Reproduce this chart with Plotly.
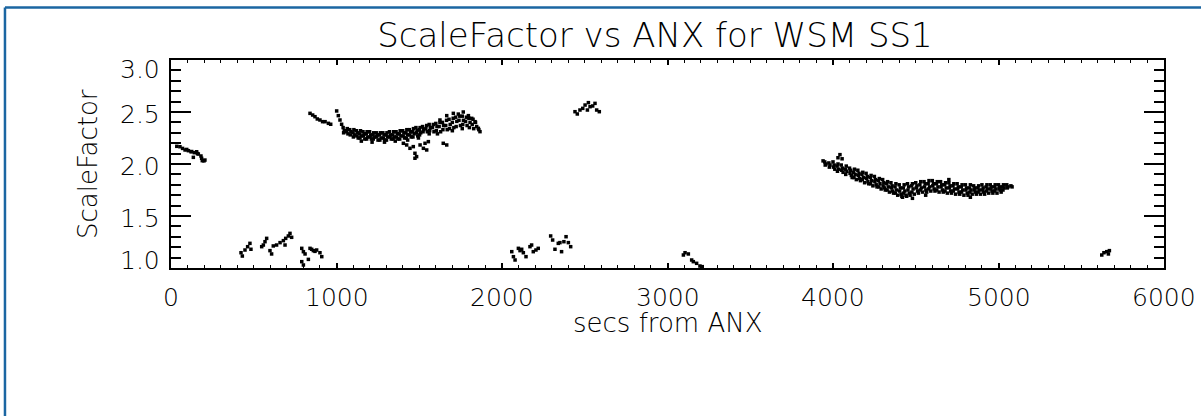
import plotly.graph_objects as go

# ---------------- data ----------------
x_ticks = [0, 1000, 2000, 3000, 4000, 5000, 6000]
y_ticks = [1.0, 1.5, 2.0, 2.5, 3.0]

# cluster near 0-200 s, ~2.1
secs_a = [35, 54, 70, 85, 95, 105, 121, 125, 135, 141, 155, 160, 165, 181, 185, 189, 199, 205]
scale_a = [2.17, 2.166, 2.15, 2.135, 2.14, 2.128, 2.118, 2.12, 2.064, 2.109, 2.118, 2.10, 2.096, 2.077, 2.055, 2.032, 2.03, 2.038]

# low strands 400-920 s, ~1.0-1.3
secs_b = [423, 431, 447, 463, 477, 483, 548, 558, 568, 578, 598, 608,
          618, 638, 659, 679, 693, 709, 719, 729, 689,
          790, 800, 810, 830, 840, 860, 880, 900, 911, 790, 800, 850, 870]
scale_b = [1.147, 1.115, 1.173, 1.205, 1.237, 1.18, 1.205, 1.221, 1.253, 1.285, 1.167, 1.135,
           1.212, 1.221, 1.244, 1.263, 1.285, 1.308, 1.333, 1.295, 1.221,
           1.189, 1.157, 1.135, 1.083, 1.189, 1.167, 1.173, 1.147, 1.109, 1.061, 1.029, 1.18, 1.16]

# upper band 840-1870 s, ~2.2-2.5
secs_c = [840, 856, 870, 884, 900, 916, 931, 951, 965, 1001, 1011, 1021, 1031,
          1040, 1047, 1043,
          1065, 1060, 1069,
          1080, 1087, 1083,
          1105, 1100, 1109, 1102,
          1120, 1127, 1123, 1131,
          1145, 1140, 1149, 1142,
          1160, 1167, 1163, 1171,
          1185, 1180, 1189, 1182,
          1200, 1207, 1203, 1211,
          1225, 1220, 1229, 1222,
          1240, 1247, 1243, 1251,
          1265, 1260, 1269, 1262,
          1280, 1287, 1283, 1291,
          1305, 1300, 1309, 1302,
          1320, 1327, 1323, 1331,
          1345, 1340, 1349, 1342,
          1360, 1367, 1363, 1371,
          1385, 1380, 1389, 1382,
          1400, 1407, 1403, 1411,
          1425, 1420, 1429, 1422,
          1440, 1447, 1443, 1451,
          1465, 1460, 1469, 1462,
          1480, 1487, 1483, 1491,
          1505, 1500, 1509, 1502,
          1520, 1527, 1523,
          1545, 1540, 1549,
          1560, 1567, 1563,
          1585, 1580, 1589,
          1600, 1607, 1603,
          1625, 1620, 1629,
          1640, 1647, 1643,
          1665, 1660, 1669,
          1680, 1687, 1683,
          1705, 1700, 1709,
          1720, 1727, 1723,
          1745, 1740, 1749,
          1760, 1767, 1763,
          1785, 1780, 1789,
          1800, 1807, 1803,
          1825, 1820, 1829,
          1840, 1847,
          1860,
          1404, 1424, 1444, 1464, 1474, 1484, 1505, 1525, 1535, 1545, 1555, 1645, 1666, 1474,
          1625, 1666, 1706, 1736, 1766, 1797, 1817, 1837, 1867, 1857,
          1150, 1215, 1290, 1355, 1430, 1495, 1560, 1610, 1700, 1760]
scale_c = [2.487, 2.471, 2.455, 2.433, 2.423, 2.407, 2.407, 2.391, 2.382, 2.510, 2.465, 2.423, 2.382,
           2.35, 2.32, 2.30,
           2.34, 2.31, 2.29,
           2.33, 2.31, 2.28,
           2.33, 2.30, 2.28, 2.26,
           2.32, 2.30, 2.27, 2.25,
           2.32, 2.29, 2.27, 2.25,
           2.31, 2.29, 2.27, 2.24,
           2.31, 2.29, 2.26, 2.24,
           2.31, 2.28, 2.26, 2.24,
           2.30, 2.28, 2.26, 2.24,
           2.30, 2.28, 2.26, 2.23,
           2.30, 2.28, 2.25, 2.23,
           2.30, 2.28, 2.25, 2.23,
           2.30, 2.28, 2.26, 2.23,
           2.31, 2.28, 2.26, 2.24,
           2.31, 2.28, 2.26, 2.24,
           2.31, 2.29, 2.26, 2.24,
           2.32, 2.29, 2.27, 2.24,
           2.32, 2.30, 2.27, 2.25,
           2.33, 2.30, 2.28, 2.25,
           2.33, 2.31, 2.28, 2.26,
           2.34, 2.31, 2.29, 2.26,
           2.35, 2.32, 2.30, 2.27,
           2.35, 2.33, 2.30, 2.28,
           2.36, 2.33, 2.31,
           2.37, 2.34, 2.31,
           2.38, 2.35, 2.32,
           2.38, 2.35, 2.31,
           2.39, 2.36, 2.32,
           2.40, 2.36, 2.31,
           2.40, 2.37, 2.33,
           2.42, 2.37, 2.33,
           2.43, 2.38, 2.34,
           2.44, 2.40, 2.35,
           2.45, 2.41, 2.36,
           2.46, 2.42, 2.37,
           2.46, 2.42, 2.38,
           2.45, 2.41, 2.37,
           2.44, 2.40, 2.35,
           2.43, 2.38, 2.34,
           2.40, 2.36,
           2.33,
           2.199, 2.183, 2.151, 2.167, 2.103, 2.071, 2.183, 2.151, 2.199, 2.135, 2.215, 2.199, 2.183, 2.055,
           2.423, 2.465, 2.487, 2.48, 2.50, 2.465, 2.439, 2.407, 2.311, 2.343,
           2.22, 2.21, 2.21, 2.22, 2.23, 2.25, 2.29, 2.29, 2.32, 2.34]

# small groups 2050-3210 s
secs_d = [2441, 2455, 2471, 2488, 2502, 2516, 2532, 2548, 2562, 2572, 2588, 2522,
          2059, 2069, 2079, 2099, 2109, 2119, 2129, 2145, 2169, 2179, 2189, 2205, 2219,
          2294, 2306, 2320, 2340, 2350, 2360, 2374, 2387, 2401, 2415,
          3096, 3106, 3126, 3146, 3156, 3176, 3196, 3210]
scale_d = [2.503, 2.481, 2.519, 2.535, 2.567, 2.519, 2.551, 2.558, 2.583, 2.519, 2.503, 2.590,
           1.157, 1.109, 1.077, 1.189, 1.167, 1.18, 1.147, 1.109, 1.205, 1.221, 1.157, 1.173, 1.189,
           1.308, 1.269, 1.18, 1.237, 1.244, 1.157, 1.253, 1.301, 1.244, 1.205,
           1.125, 1.147, 1.135, 1.077, 1.061, 1.045, 1.019, 1.013]

# lower band 3940-5085 s, ~1.7-2.05
secs_e = [3950, 3957, 3953,
          3975, 3982, 3978,
          4000, 4007, 4003, 4011,
          4030, 4025, 4034, 4027,
          4050, 4057, 4053, 4061,
          4080, 4075, 4084, 4077,
          4100, 4107, 4103, 4111,
          4130, 4125, 4134, 4127,
          4150, 4157, 4153, 4161,
          4180, 4175, 4184, 4177,
          4200, 4207, 4203, 4211,
          4230, 4225, 4234, 4227,
          4250, 4257, 4253, 4261,
          4280, 4275, 4284, 4277,
          4300, 4307, 4303, 4311,
          4330, 4325, 4334, 4327,
          4350, 4357, 4353, 4361,
          4380, 4375, 4384, 4377,
          4400, 4407, 4403, 4411,
          4430, 4425, 4434, 4427,
          4450, 4457, 4453, 4461,
          4480, 4475, 4484, 4477,
          4500, 4507, 4503, 4511,
          4530, 4525, 4534, 4527,
          4550, 4557, 4553, 4561,
          4580, 4575, 4584, 4577,
          4600, 4607, 4603, 4611,
          4630, 4625, 4634, 4627,
          4650, 4657, 4653, 4661,
          4680, 4675, 4684, 4677,
          4700, 4707, 4703, 4711,
          4730, 4725, 4734, 4727,
          4750, 4757, 4753, 4761,
          4780, 4775, 4784, 4777,
          4800, 4807, 4803, 4811,
          4830, 4825, 4834, 4827,
          4850, 4857, 4853, 4861,
          4880, 4875, 4884, 4877,
          4900, 4907, 4903, 4911,
          4930, 4925, 4934, 4927,
          4950, 4957, 4953, 4961,
          4980, 4975, 4984, 4977,
          5000, 5007, 5003, 5011,
          5030, 5025, 5034, 5027,
          5050, 5057, 5053,
          5075, 5082,
          3940, 4030, 4042, 4055, 4420, 4445, 4480, 4830, 4700, 4560,
          4116, 4141, 4166, 4191, 4216, 4241, 4266, 4291, 4316, 4341, 4366, 4391,
          4416, 4441, 4466, 4491, 4516, 4541, 4566, 4591, 4616, 4641, 4666, 4691,
          4716, 4741, 4766, 4791, 4816, 4841, 4866, 4891, 4916, 4941, 4966, 4991, 5016]
scale_e = [2.02, 2.00, 1.99,
           2.01, 1.99, 1.97,
           2.02, 1.99, 1.97, 1.95,
           2.00, 1.98, 1.95, 1.93,
           1.99, 1.96, 1.94, 1.92,
           1.98, 1.95, 1.93, 1.90,
           1.96, 1.94, 1.91, 1.89,
           1.95, 1.92, 1.90, 1.87,
           1.94, 1.91, 1.89, 1.86,
           1.92, 1.90, 1.87, 1.85,
           1.91, 1.88, 1.86, 1.83,
           1.89, 1.87, 1.84, 1.81,
           1.88, 1.85, 1.83, 1.80,
           1.86, 1.84, 1.81, 1.78,
           1.85, 1.82, 1.79, 1.77,
           1.83, 1.81, 1.78, 1.75,
           1.82, 1.79, 1.77, 1.74,
           1.81, 1.78, 1.75, 1.72,
           1.80, 1.77, 1.74, 1.71,
           1.80, 1.77, 1.74, 1.72,
           1.81, 1.78, 1.75, 1.72,
           1.81, 1.79, 1.76, 1.73,
           1.82, 1.79, 1.77, 1.74,
           1.83, 1.80, 1.77, 1.75,
           1.83, 1.81, 1.78, 1.75,
           1.84, 1.81, 1.78, 1.76,
           1.84, 1.81, 1.79, 1.76,
           1.83, 1.81, 1.78, 1.75,
           1.83, 1.80, 1.78, 1.75,
           1.82, 1.80, 1.77, 1.74,
           1.82, 1.79, 1.77, 1.74,
           1.81, 1.79, 1.76, 1.74,
           1.81, 1.78, 1.76, 1.73,
           1.80, 1.78, 1.75, 1.73,
           1.80, 1.77, 1.75, 1.72,
           1.80, 1.77, 1.75, 1.73,
           1.79, 1.77, 1.75, 1.73,
           1.79, 1.77, 1.75, 1.73,
           1.80, 1.77, 1.75, 1.73,
           1.80, 1.78, 1.76, 1.74,
           1.80, 1.78, 1.76, 1.74,
           1.80, 1.78, 1.76, 1.74,
           1.80, 1.78, 1.76, 1.75,
           1.80, 1.78, 1.77, 1.75,
           1.80, 1.78, 1.77,
           1.79, 1.78,
           2.03, 2.06, 2.09, 2.05, 1.68, 1.69, 1.67, 1.68, 1.85, 1.70,
           1.87, 1.85, 1.84, 1.82, 1.81, 1.79, 1.78, 1.76, 1.75, 1.73, 1.72, 1.70,
           1.69, 1.70, 1.70, 1.71, 1.72, 1.73, 1.73, 1.74, 1.74, 1.73, 1.73, 1.72,
           1.72, 1.71, 1.71, 1.70, 1.70, 1.71, 1.71, 1.71, 1.71, 1.72, 1.72, 1.72, 1.73]

# tiny group near 5650 s
secs_f = [5624, 5637, 5654, 5670, 5664]
scale_f = [1.125, 1.147, 1.157, 1.167, 1.135]

title_text = "ScaleFactor vs ANX for WSM SS1"
x_title = "secs from ANX"
y_title = "ScaleFactor"

# ---------------- figure ----------------
secs = secs_a + secs_b + secs_c + secs_d + secs_e + secs_f
scale = scale_a + scale_b + scale_c + scale_d + scale_e + scale_f
assert len(secs) == len(scale)

FONT = "DejaVu Sans Light, DejaVu Sans ExtraLight, DejaVu Sans"
TXT = "#000000"

fig = go.Figure(go.Scatter(
    x=secs, y=scale, mode="markers",
    marker=dict(symbol="square", size=3.5, color="black", line=dict(width=0)),
    hoverinfo="skip",
))

annotations = []
for v in x_ticks:
    annotations.append(dict(x=v, y=0, xref="x", yref="paper", text=str(v),
                            showarrow=False, xanchor="center", yanchor="middle",
                            yshift=-29, font=dict(family=FONT, size=25, color=TXT, weight=200)))
for v in y_ticks:
    if v == max(y_ticks):
        ys = -9
    elif v == min(y_ticks):
        ys = 8
    else:
        ys = -2
    annotations.append(dict(x=0, y=v, xref="paper", yref="y", text=f"{v:.1f}",
                            showarrow=False, xanchor="right", yanchor="middle",
                            xshift=-9, yshift=ys, font=dict(family=FONT, size=25, color=TXT, weight=200)))
annotations.append(dict(x=0.5, y=0, xref="paper", yref="paper", text=x_title,
                        showarrow=False, xanchor="center", yanchor="middle",
                        yshift=-55, font=dict(family=FONT, size=26, color=TXT, weight=200)))
annotations.append(dict(x=0, y=0.5, xref="paper", yref="paper", text=y_title,
                        showarrow=False, xanchor="center", yanchor="middle", textangle=-90,
                        xshift=-83, font=dict(family=FONT, size=26, color=TXT, weight=200)))

frame_col = "#1b66a2"
shapes = [
    dict(type="line", xref="paper", yref="paper", x0=-0.1672, x1=1.1, y0=1.2524, y1=1.2524,
         line=dict(color=frame_col, width=2.5)),
    dict(type="line", xref="paper", yref="paper", x0=-0.1672, x1=-0.1672, y0=1.2524, y1=-0.8,
         line=dict(color=frame_col, width=2.5)),
]

fig.update_layout(
    width=1201, height=416,
    margin=dict(l=171, r=37, t=60, b=148),
    paper_bgcolor="white", plot_bgcolor="white",
    showlegend=False,
    title=dict(text=title_text, x=655 / 1201, xref="container", xanchor="center",
               y=1 - 35 / 416, yref="container", yanchor="middle",
               font=dict(family=FONT, size=34, color=TXT, weight=200)),
    xaxis=dict(range=[0, 6000], tickmode="array", tickvals=x_ticks, showticklabels=False,
               ticks="inside", ticklen=5, tickwidth=1.5, tickcolor="black",
               minor=dict(tickmode="linear", tick0=0, dtick=100, ticks="inside", ticklen=3,
                          tickwidth=1, tickcolor="black", showgrid=False),
               showline=True, linecolor="black", linewidth=2, mirror="ticks",
               showgrid=False, zeroline=False, fixedrange=True),
    yaxis=dict(range=[1, 3], tickmode="array", tickvals=y_ticks, showticklabels=False,
               ticks="inside", ticklen=20, tickwidth=1.5, tickcolor="black",
               minor=dict(tickmode="linear", tick0=1, dtick=0.1, ticks="inside", ticklen=10,
                          tickwidth=1.5, tickcolor="black", showgrid=False),
               showline=True, linecolor="black", linewidth=2, mirror="ticks",
               showgrid=False, zeroline=False, fixedrange=True),
    annotations=annotations,
    shapes=shapes,
)

fig.write_html("out.html", config={"displayModeBar": False},
               post_script="document.body.style.margin='0';")
